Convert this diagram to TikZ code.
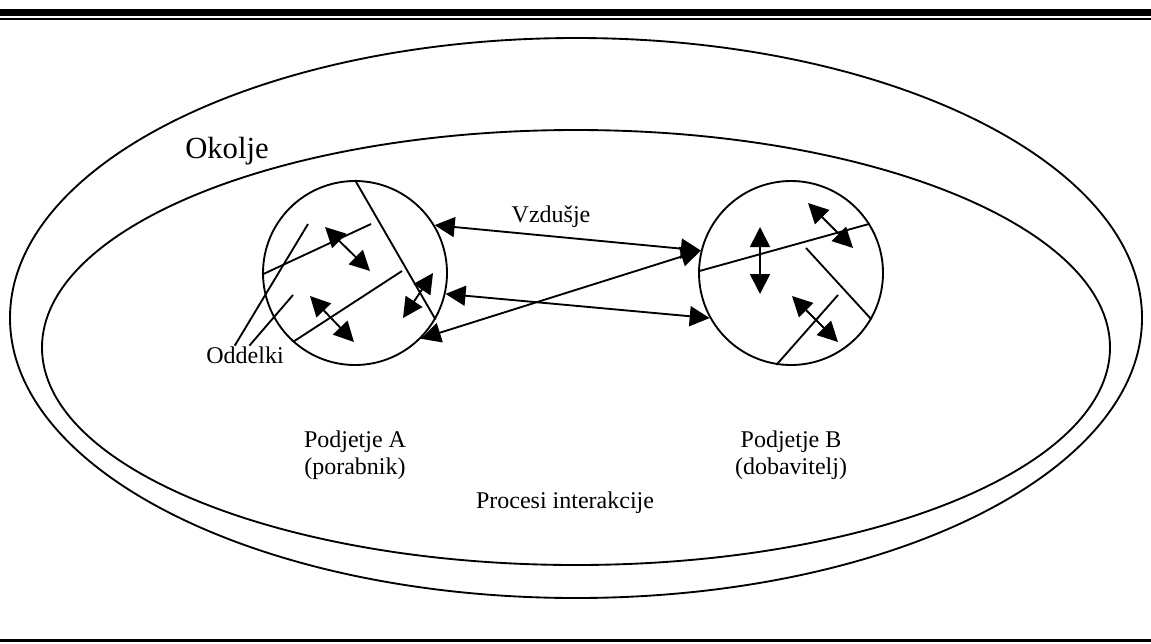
\documentclass[tikz,border=0pt]{standalone}
\usepackage{fontspec}
\setmainfont{Liberation Serif}
\usetikzlibrary{arrows.meta,positioning}

\begin{document}
\begin{tikzpicture}[x=0.75pt, y=-0.75pt, line width=1.4pt]

% Define styles
\tikzstyle{firm} = [circle, draw, minimum size=138pt, inner sep=0pt]
\tikzstyle{txt} = [inner sep=0pt, font=\fontsize{18}{20.25}\selectfont, align=center]
\tikzstyle{arrow} = [<->, >={Triangle[length=15pt,width=15pt]}]

\useasboundingbox (0,0) rectangle (1151,643);

% Rules at top and bottom
\fill (0,9) rectangle (1151,16);
\fill (0,18) rectangle (1151,20.3);
\fill (0,639) rectangle (1151,642);

% Environment and interaction space
\draw (576,318) ellipse [x radius=566, y radius=280];
\draw (576,347.5) ellipse [x radius=534, y radius=217.5];

% Nodes
\node [firm] (podA) at (355,273) {};
\node [firm] (podB) at (791,273) {};

\node [txt, font=\fontsize{23}{26}\selectfont, anchor=base] (okolje) at (227,158) {Okolje};
\node [txt] (vzdusje) at (551,217) {Vzdušje};
\node [txt, below=48pt of podA] (capA) {Podjetje A\\(porabnik)};
\node [txt, below=48pt of podB] (capB) {Podjetje B\\(dobavitelj)};
\node [txt] (procesi) at (565,503) {Procesi interakcije};
\node [txt] (oddelki) at (245,355) {Oddelki};

% Departments inside A
\draw (podA.90) -- (podA.-30);
\draw (podA.181) -- (371,224);
\draw (podA.228) -- (402,271);
\draw [arrow] (325,227) -- (370,271);
\draw [arrow] (310,296) -- (354,342);
\draw [arrow] (433,273) -- (403,318);

% Departments inside B
\draw (podB.179) -- (podB.32);
\draw (806,248) -- (podB.-30);
\draw (podB.-99) -- (838,295);
\draw [arrow] (760,227) -- (760,294);
\draw [arrow] (808,203) -- (853,248);
\draw [arrow] (792,296) -- (838,342);

% Pointers to departments
\draw (oddelki.north west) ++(22pt,0) -- (308,224);
\draw (oddelki.north west) ++(33pt,0) -- (293,295);

% Arrows
\draw [arrow] (podA.31) -- (podB.166);
\draw [arrow] (podA.-13) -- (podB.-151);
\draw [arrow] (podA.-45) -- (podB.166);

\end{tikzpicture}
\end{document}
